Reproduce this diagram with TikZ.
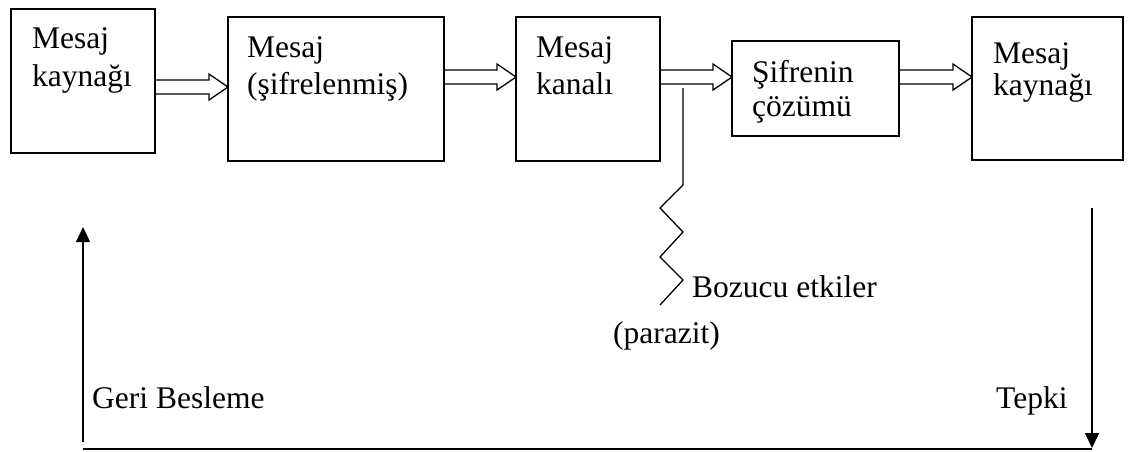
\documentclass[tikz,border=0pt]{standalone}
\usepackage{fontspec}
\setmainfont{Liberation Serif}
\usetikzlibrary{calc,arrows.meta}
\newcommand{\hollowarr}[3]{%
  \draw[harrow] ($(#1.east|-#3)+(0,-7)$) -- ($(#2.west|-#3)+(-19,-7)$) -- ($(#2.west|-#3)+(-19,-13)$) -- (#2.west|-#3) -- ($(#2.west|-#3)+(-19,13)$) -- ($(#2.west|-#3)+(-19,7)$) -- ($(#1.east|-#3)+(0,7)$);}
\begin{document}
\begin{tikzpicture}[x=1pt,y=-1pt,
  box/.style={draw, line width=1.5pt, inner sep=0pt, outer sep=0pt},
  lbl/.style={anchor=base west, inner sep=0pt, font=\fontsize{31.5}{37}\selectfont},
  harrow/.style={line width=1.3pt, line join=miter},
  zig/.style={line width=1.3pt},
  fb/.style={line width=1.3pt, -{Triangle[length=15pt,width=14pt]}}]
\useasboundingbox (0,0) rectangle (1129,451);
% boxes
\node[box, minimum width=144pt, minimum height=144pt] (b1) at (83,81) {};
\node[box, minimum width=216pt, minimum height=144pt] (b2) at (336,89) {};
\node[box, minimum width=144pt, minimum height=144pt] (b3) at (588,89) {};
\node[box, minimum width=167pt, minimum height=95pt] (b4) at (815.5,88.5) {};
\node[box, minimum width=151pt, minimum height=143pt] (b5) at (1047.5,88.5) {};
% box texts
\node[lbl] (t1a) at (32,48) {Mesaj};
\node[lbl] (t1b) at (32,86) {kaynağı};
\node[lbl] (t2a) at (247,57) {Mesaj};
\node[lbl] (t2b) at (247,94) {(şifrelenmiş)};
\node[lbl] (t3a) at (536,57) {Mesaj};
\node[lbl] (t3b) at (536,94) {kanalı};
\node[lbl] (t4a) at (752,82) {Şifrenin};
\node[lbl] (t4b) at (752,116) {çözümü};
\node[lbl] (t5a) at (993,63) {Mesaj};
\node[lbl] (t5b) at (993,95) {kaynağı};
% hollow arrows
\coordinate (y1) at (0,87);
\coordinate (y2) at (0,77);
\hollowarr{b1}{b2}{y1}
\hollowarr{b2}{b3}{y2}
\hollowarr{b3}{b4}{y2}
\hollowarr{b4}{b5}{y2}
% noise
\coordinate (n0) at (683,88);
\coordinate (n1) at (683,185);
\coordinate (n6) at (660,305);
\draw[zig] (n0) -- (n1) -- (660,208) -- (683,232) -- (660,257) -- (683,280) -- (n6);
\node[lbl] (bozucu) at (692,297) {Bozucu etkiler};
\node[lbl] (parazit) at (613,343) {(parazit)};
% feedback loop
\coordinate (fbBot) at (83,442);
\coordinate (fbTop) at (83,227);
\coordinate (tkTop) at (1092,208);
\coordinate (tkBot) at (1092,448);
\coordinate (blL) at (83,449);
\coordinate (blR) at (1092,449);
\draw[fb] (fbBot) -- (fbTop);
\draw[fb] (tkTop) -- (tkBot);
\draw[line width=2pt] (blL) -- (blR);
\node[lbl] (geri) at (92,408) {Geri Besleme};
\node[lbl] (tepki) at (996,408) {Tepki};
\end{tikzpicture}
\end{document}
